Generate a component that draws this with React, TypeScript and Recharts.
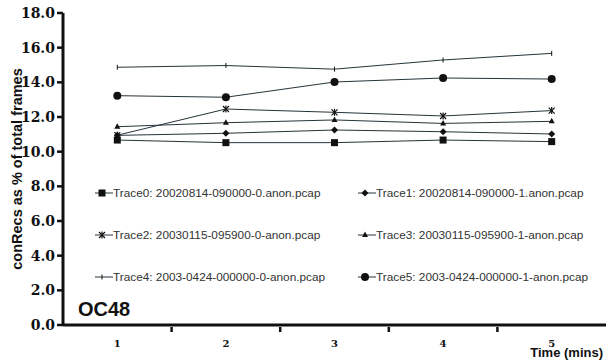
import { LineChart, Line, XAxis, YAxis, Label } from "recharts";

const minutes = ["1", "2", "3", "4", "5"];
const trace0 = [10.67, 10.52, 10.52, 10.67, 10.58];
const trace1 = [10.94, 11.06, 11.25, 11.15, 11.02];
const trace2 = [10.95, 12.46, 12.27, 12.06, 12.37];
const trace3 = [11.44, 11.67, 11.83, 11.63, 11.75];
const trace4 = [14.87, 14.97, 14.76, 15.29, 15.67];
const trace5 = [13.23, 13.14, 14.02, 14.25, 14.19];
const yTicks = [0, 2, 4, 6, 8, 10, 12, 14, 16, 18];

const traces = [
  { key: "t0", name: "Trace0: 20020814-090000-0.anon.pcap", shape: "square", values: trace0 },
  { key: "t1", name: "Trace1: 20020814-090000-1.anon.pcap", shape: "diamond", values: trace1 },
  { key: "t2", name: "Trace2: 20030115-095900-0-anon.pcap", shape: "star", values: trace2 },
  { key: "t3", name: "Trace3: 20030115-095900-1-anon.pcap", shape: "triangle", values: trace3 },
  { key: "t4", name: "Trace4: 2003-0424-000000-0-anon.pcap", shape: "plus", values: trace4 },
  { key: "t5", name: "Trace5: 2003-0424-000000-1-anon.pcap", shape: "circle", values: trace5 },
];

const data = minutes.map((m, i) => {
  const row: Record<string, string | number> = { min: m };
  traces.forEach((t) => (row[t.key] = t.values[i]));
  return row;
});

const LINE = "#26343a";
const INK = "#111";

function Marker({ shape, cx, cy }: { shape: string; cx: number; cy: number }) {
  switch (shape) {
    case "square":
      return <rect x={cx - 3.5} y={cy - 3.5} width={7} height={7} fill={INK} />;
    case "diamond":
      return <path d={`M${cx},${cy - 3.5}L${cx + 3.5},${cy}L${cx},${cy + 3.5}L${cx - 3.5},${cy}Z`} fill={INK} />;
    case "triangle":
      return <path d={`M${cx},${cy - 3.5}L${cx + 3},${cy + 2}L${cx - 3},${cy + 2}Z`} fill={INK} />;
    case "star":
      return (
        <g stroke={INK} strokeWidth={1.2}>
          <line x1={cx - 3} y1={cy - 3} x2={cx + 3} y2={cy + 3} />
          <line x1={cx - 3} y1={cy + 3} x2={cx + 3} y2={cy - 3} />
          <line x1={cx} y1={cy - 3.5} x2={cx} y2={cy + 3.5} />
        </g>
      );
    case "plus":
      return <line x1={cx} y1={cy - 2.5} x2={cx} y2={cy + 2.5} stroke={INK} strokeWidth={1} />;
    default:
      return <circle cx={cx} cy={cy} r={4} fill={INK} />;
  }
}

function XTick(props: any) {
  const { x, y, payload, index } = props;
  return (
    <g>
      {index < 4 && <line x1={x + 54.3} y1={y - 6} x2={x + 54.3} y2={y - 1} stroke={INK} strokeWidth={2.5} />}
      <text x={x} y={y + 14} textAnchor="middle" fontFamily="DejaVu Serif" fontWeight="bold" fontSize={10} fill={INK}>
        {payload.value}
      </text>
    </g>
  );
}

const legendCols = [95, 358];
const legendRows = [193, 235, 277];

export default function App() {
  return (
    <div style={{ position: "absolute", left: 0, top: 0, width: 606, height: 363, background: "#fff" }}>
      <LineChart width={606} height={363} data={data} margin={{ top: 13, right: 0, bottom: 0, left: 0 }}>
        <XAxis
          dataKey="min"
          height={38}
          padding={{ left: 54.3, right: 54.3 }}
          axisLine={{ stroke: INK, strokeWidth: 3 }}
          tickLine={false}
          tick={<XTick />}
          interval={0}
        />
        <YAxis
          width={63}
          domain={[0, 18]}
          ticks={yTicks}
          tickFormatter={(v: number) => v.toFixed(1)}
          axisLine={{ stroke: INK, strokeWidth: 3 }}
          tickLine={{ stroke: INK, strokeWidth: 2.5 }}
          tickSize={6}
          tick={{ fontFamily: "DejaVu Serif", fontWeight: "bold", fontSize: 14, fill: INK }}
        >
          <Label
            value="conRecs as % of total frames"
            angle={-90}
            position="insideLeft"
            offset={0}
            dx={17}
            style={{ fontFamily: "Liberation Sans", fontWeight: "bold", fontSize: 14.5, fill: INK, textAnchor: "middle" }}
          />
        </YAxis>
        {traces.map((t) => (
          <Line
            key={t.key}
            dataKey={t.key}
            type="linear"
            stroke={LINE}
            strokeWidth={1}
            isAnimationActive={false}
            dot={(p: any) => <Marker key={`${t.key}-${p.index}`} shape={t.shape} cx={p.cx} cy={p.cy} />}
            activeDot={false}
          />
        ))}
      </LineChart>
      <svg width={606} height={363} style={{ position: "absolute", left: 0, top: 0, pointerEvents: "none" }}>
        {traces.map((t, i) => {
          const x = legendCols[i % 2];
          const y = legendRows[Math.floor(i / 2)];
          return (
            <g key={t.key}>
              <line x1={x} y1={y} x2={x + 18} y2={y} stroke={LINE} strokeWidth={1} />
              <Marker shape={t.shape} cx={x + 7} cy={y} />
              <text x={x + 18} y={y + 4} fontFamily="Liberation Sans" fontSize={11.8} fill="#333">
                {t.name}
              </text>
            </g>
          );
        })}
        <text x={78} y={316} fontFamily="Liberation Sans" fontWeight="bold" fontSize={20} fill={INK}>
          OC48
        </text>
        <text x={603} y={357} textAnchor="end" fontFamily="Liberation Sans" fontWeight="bold" fontSize={13} fill={INK}>
          Time (mins)
        </text>
      </svg>
    </div>
  );
}
